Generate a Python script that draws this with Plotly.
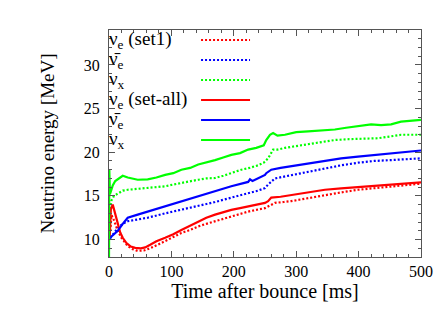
import plotly.graph_objects as go

# ---- data ----
t_nx_all = [0, 0.5, 1.5, 3, 6, 10, 14, 22, 30, 46, 62, 76, 90, 103, 116, 130, 143, 156, 170, 183, 196, 210,
            223, 236, 248, 252, 258, 263, 270, 282, 300, 319, 340, 362, 380, 399, 420, 436, 452, 468, 485, 500]
e_nx_all = [8, 18, 15.2, 15.5, 16.2, 16.7, 16.9, 17.3, 17.1, 16.85, 16.9, 17.1, 17.4, 17.6, 18.0, 18.2, 18.6,
            18.8, 19.1, 19.4, 19.7, 19.9, 20.3, 20.5, 20.8, 21.4, 22.0, 22.2, 21.9, 22.0, 22.3, 22.4, 22.5,
            22.6, 22.8, 23.0, 23.2, 23.1, 23.2, 23.5, 23.6, 23.7]

t_nx_1 = [2, 4, 8, 14, 22, 30, 46, 62, 76, 90, 103, 116, 130, 143, 156, 170, 183, 196, 212, 225, 239, 248,
          255, 263, 270, 282, 300, 319, 340, 362, 385, 410, 431, 450, 468, 485, 500]
e_nx_1 = [13.5, 14.5, 15.0, 15.3, 15.6, 15.7, 15.8, 15.9, 16.0, 16.1, 16.3, 16.5, 16.7, 16.85, 17.0, 17.05,
          17.3, 17.6, 18.0, 18.2, 18.5, 18.8, 19.3, 20.3, 20.3, 20.5, 20.7, 20.9, 21.1, 21.4, 21.5, 21.6,
          21.6, 21.8, 22.0, 22.0, 22.0]

t_nb_all = [1, 3, 8, 14, 22, 30, 46, 62, 76, 90, 116, 143, 170, 196, 223, 226, 230, 239, 250, 252, 260,
            275, 292, 320, 346, 372, 399, 425, 452, 476, 500]
e_nb_all = [10.0, 10.3, 10.6, 11.0, 11.8, 12.5, 12.85, 13.2, 13.5, 13.8, 14.4, 14.95, 15.6, 16.1, 16.6,
            16.9, 16.7, 17.05, 17.4, 17.6, 18.0, 18.2, 18.4, 18.7, 19.0, 19.3, 19.5, 19.7, 19.9, 20.05, 20.2]

t_nb_1 = [2, 5, 10, 14, 22, 30, 46, 62, 90, 116, 143, 170, 196, 220, 239, 250, 255, 266, 280, 292, 320,
          346, 372, 399, 425, 452, 476, 500]
e_nb_1 = [10.2, 10.5, 10.9, 11.3, 11.8, 12.1, 12.3, 12.5, 13.0, 13.4, 13.8, 14.3, 14.8, 15.2, 15.6, 15.9,
          16.3, 17.0, 17.2, 17.4, 17.8, 18.2, 18.5, 18.8, 19.0, 19.1, 19.2, 19.3]

t_ne_all = [1, 3, 6, 10, 14, 18, 22, 28, 35, 42, 51, 58, 66, 76, 90, 103, 116, 130, 143, 156, 170, 183,
            196, 210, 223, 236, 250, 255, 260, 275, 292, 320, 346, 372, 399, 425, 452, 476, 500]
e_ne_all = [10.0, 13.5, 14.0, 13.0, 11.7, 10.8, 10.2, 9.6, 9.2, 9.05, 9.0, 9.1, 9.4, 9.8, 10.2, 10.6,
            11.1, 11.6, 12.1, 12.5, 12.85, 13.15, 13.4, 13.6, 13.8, 14.0, 14.2, 14.4, 14.8, 14.9, 15.1,
            15.4, 15.7, 15.85, 16.0, 16.15, 16.3, 16.4, 16.55]

t_ne_1 = [2, 4, 8, 14, 20, 25, 30, 38, 46, 56, 66, 78, 90, 103, 116, 130, 143, 156, 170, 183, 196, 210,
          223, 236, 250, 258, 266, 280, 292, 320, 346, 372, 399, 425, 452, 476, 500]
e_ne_1 = [11.0, 12.8, 12.2, 11.0, 10.2, 9.7, 9.25, 8.9, 8.7, 8.75, 9.0, 9.4, 9.8, 10.3, 10.75, 11.1,
          11.5, 11.8, 12.1, 12.4, 12.7, 12.95, 13.2, 13.4, 13.6, 13.9, 14.2, 14.3, 14.4, 14.75, 15.1,
          15.4, 15.7, 15.9, 16.1, 16.3, 16.4]

legend_labels = ["ν<sub>e</sub> (set1)", "ν\u0304<sub>e</sub>", "ν<sub>x</sub>",
                 "ν<sub>e</sub> (set-all)", "ν\u0304<sub>e</sub>", "ν<sub>x</sub>"]

RED, BLUE, GREEN = "#ff0000", "#0000ff", "#00ff00"
DOT = "2px,2px"

series = [
    (t_ne_1, e_ne_1, RED, DOT),
    (t_nb_1, e_nb_1, BLUE, DOT),
    (t_nx_1, e_nx_1, GREEN, DOT),
    (t_ne_all, e_ne_all, RED, "solid"),
    (t_nb_all, e_nb_all, BLUE, "solid"),
    (t_nx_all, e_nx_all, GREEN, "solid"),
]

FONT = "'Times New Roman', 'Liberation Serif', 'DejaVu Serif', serif"
fig = go.Figure()
for t, e, c, d in series:
    fig.add_trace(go.Scatter(x=t, y=e, mode="lines", line=dict(color=c, width=2.2, dash=d),
                             showlegend=False, hoverinfo="skip"))

# manual legend (text left, sample right) in paper coords
row_y0 = (249 - 32) / 227
row_dy = 20 / 227
for i, (lab, s) in enumerate(zip(legend_labels, series)):
    yy = row_y0 - i * row_dy
    fig.add_annotation(x=-0.008, y=yy, xref="paper", yref="paper", text=lab, showarrow=False,
                       xanchor="left", yanchor="middle", font=dict(family=FONT, size=19, color="black"))
    fig.add_shape(type="line", xref="paper", yref="paper", x0=0.295, x1=0.452, y0=yy, y1=yy,
                  line=dict(color=s[2], width=2.2, dash=s[3]))

axis_common = dict(showgrid=False, zeroline=False, showline=True, linecolor="#555555", linewidth=1,
                   mirror="allticks", ticks="inside", ticklen=6, tickcolor="#555555",
                   tickfont=dict(family=FONT, size=16, color="black"))
fig.update_xaxes(range=[0, 500], dtick=100, tick0=0,
                 minor=dict(ticks="inside", ticklen=3, dtick=20, tickcolor="#555555"),
                 title=dict(text="Time after bounce [ms]", font=dict(family=FONT, size=20, color="black"),
                            standoff=4), **axis_common)
fig.update_yaxes(range=[8, 34], dtick=5, tick0=0, ticklabelstandoff=5,
                 minor=dict(ticks="inside", ticklen=3, dtick=1, tickcolor="#555555"),
                 title=dict(text="Neutrino energy [MeV]", font=dict(family=FONT, size=19, color="black"),
                            standoff=24), **axis_common)
fig.update_layout(width=442, height=309, margin=dict(l=101, r=29, t=22, b=60),
                  paper_bgcolor="white", plot_bgcolor="white", font=dict(family=FONT))
fig.write_html("out.html")
